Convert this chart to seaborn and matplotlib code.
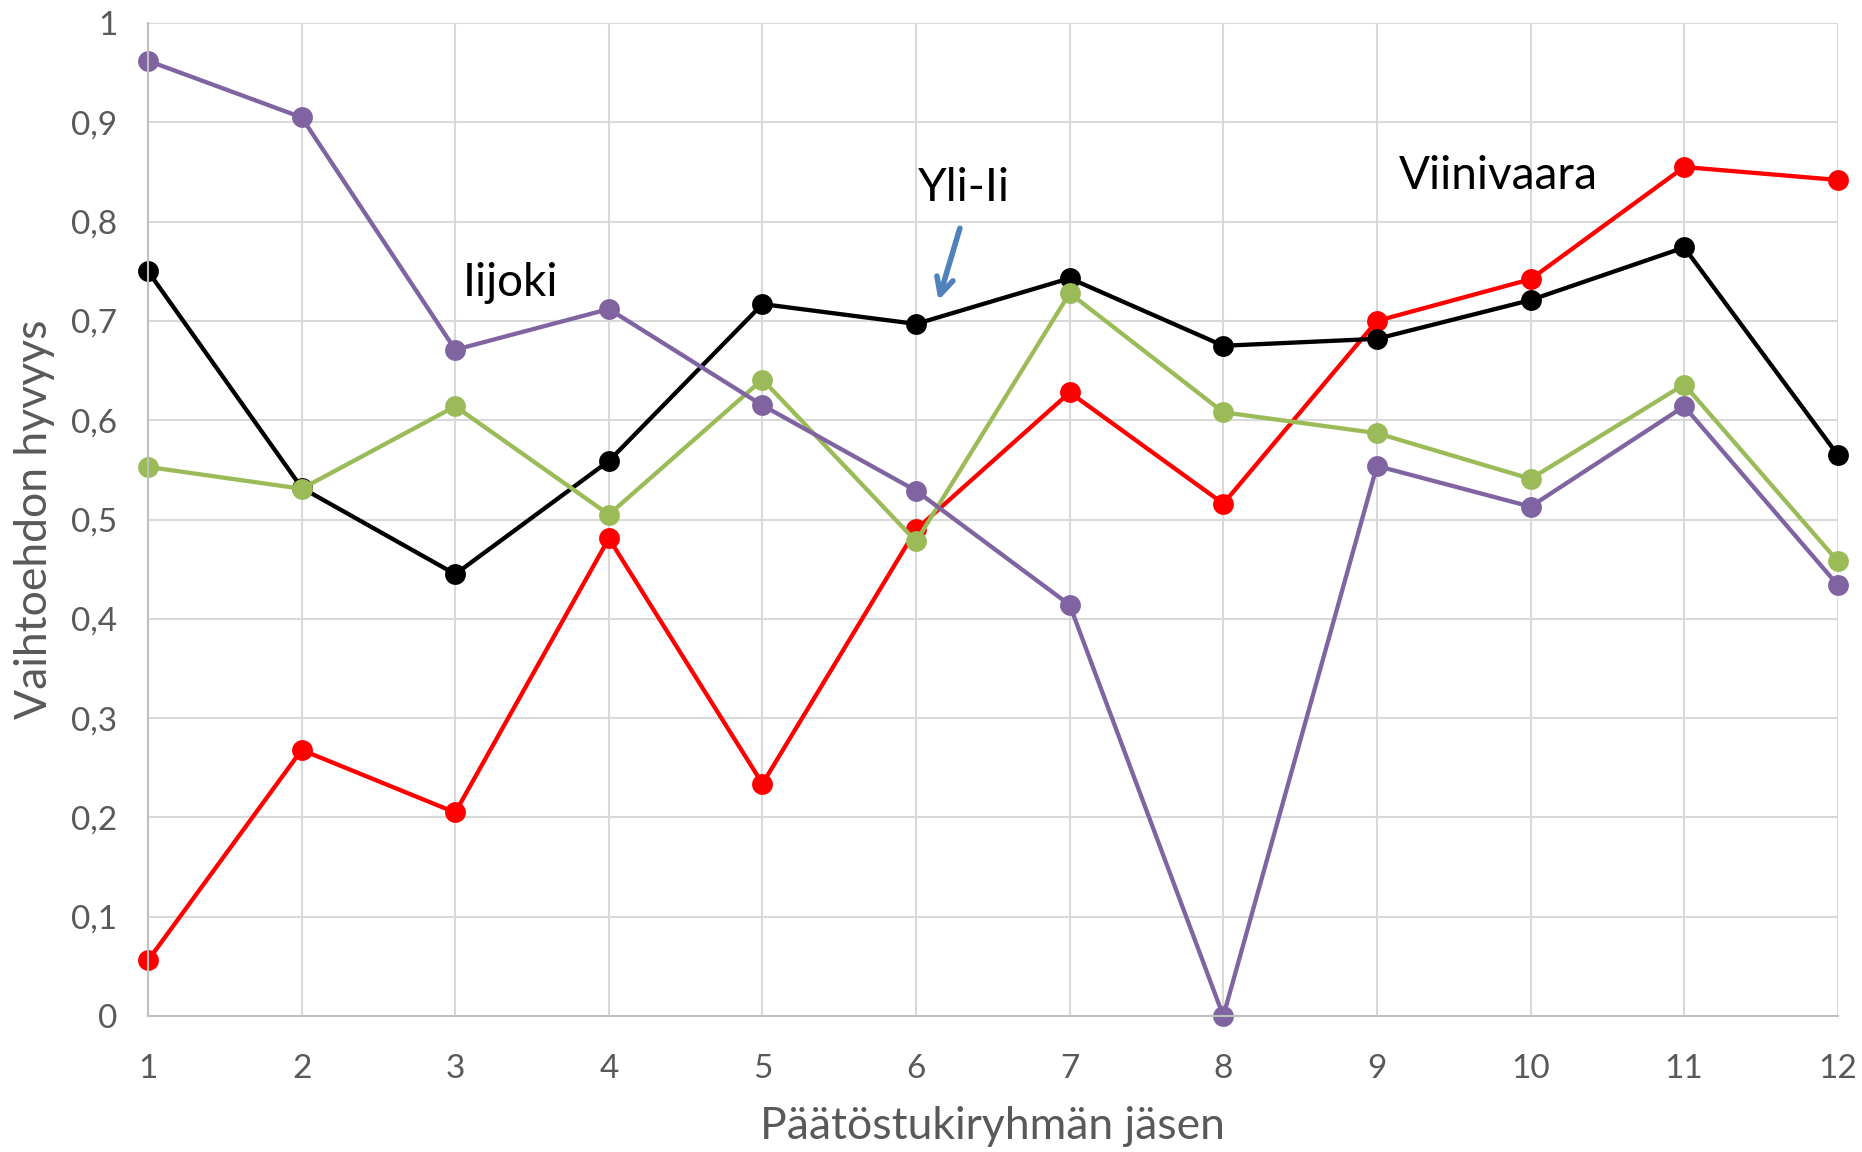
import numpy as np
import pandas as pd
import matplotlib
matplotlib.use("Agg")
import matplotlib.pyplot as plt
import seaborn as sns

# --- data ---
members = list(range(1, 13))
red_vals = [0.056, 0.268, 0.205, 0.481, 0.234, 0.490, 0.628, 0.516, 0.700, 0.742, 0.855, 0.842]
black_vals = [0.750, 0.532, 0.445, 0.559, 0.717, 0.697, 0.743, 0.675, 0.682, 0.721, 0.774, 0.565]
green_vals = [0.553, 0.531, 0.614, 0.505, 0.641, 0.478, 0.728, 0.608, 0.587, 0.541, 0.636, 0.458]
purple_vals = [0.962, 0.905, 0.671, 0.712, 0.615, 0.529, 0.414, 0.000, 0.554, 0.513, 0.614, 0.434]

series_names = ["red", "black", "green", "purple"]
series_colors = {"red": "#FF0000", "black": "#000000", "green": "#9BBB59", "purple": "#8064A2"}

y_ticks = [0, 0.1, 0.2, 0.3, 0.4, 0.5, 0.6, 0.7, 0.8, 0.9, 1]
y_tick_labels = ["0", "0,1", "0,2", "0,3", "0,4", "0,5", "0,6", "0,7", "0,8", "0,9", "1"]

df = pd.DataFrame({
    "member": members * 4,
    "value": red_vals + black_vals + green_vals + purple_vals,
    "series": sum([[s] * 12 for s in series_names], []),
})

sns.set_theme(style="white")
plt.rcParams["font.family"] = ["Lato", "DejaVu Sans"]

fig = plt.figure(figsize=(18.62, 11.52), dpi=100)
ax = fig.add_axes([0.0795, 0.118, 0.9075, 0.862])

# draw order matters: red at the bottom, purple on top
for name in series_names:
    sub = df[df["series"] == name]
    sns.lineplot(data=sub, x="member", y="value", color=series_colors[name],
                 marker="o", markersize=15, markeredgewidth=0, linewidth=3.1,
                 ax=ax, clip_on=False, legend=False)

ax.set_xlim(1, 12)
ax.set_ylim(0, 1)
ax.set_xticks(members)
ax.set_xticklabels([str(m) for m in members])
ax.set_yticks(y_ticks)
ax.set_yticklabels(y_tick_labels)
ax.grid(True, color="#D9D9D9", linewidth=1.5)
ax.set_axisbelow(True)
for side in ["top", "right"]:
    ax.spines[side].set_visible(False)
for side in ["left", "bottom"]:
    ax.spines[side].set_color("#BFBFBF")
    ax.spines[side].set_linewidth(1.5)
ax.tick_params(axis="both", length=0, labelsize=24, colors="#595959")
ax.tick_params(axis="x", pad=27)
ax.tick_params(axis="y", pad=22)

ax.set_xlabel("Päätöstukiryhmän jäsen", fontsize=32, color="#595959", labelpad=16)
ax.set_ylabel("Vaihtoehdon hyvyys", fontsize=32, color="#595959", labelpad=12)

# annotations
ax.text(3.05, 0.738, "Iijoki", fontsize=33, va="center", ha="left", color="black")
ax.text(6.01, 0.834, "Yli-Ii", fontsize=33, va="center", ha="left", color="black")
ax.text(9.14, 0.846, "Viinivaara", fontsize=33, va="center", ha="left", color="black")
ax.annotate("", xy=(6.14, 0.718), xytext=(6.29, 0.796),
            arrowprops=dict(arrowstyle="->,head_length=1.0,head_width=0.5",
                            color="#4F81BD", lw=4))

fig.savefig("out.png", dpi=100)
